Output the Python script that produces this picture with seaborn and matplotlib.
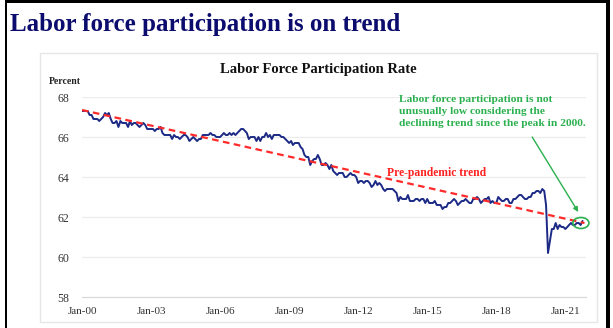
import numpy as np
import pandas as pd
import matplotlib
matplotlib.use("Agg")
import matplotlib.pyplot as plt
import matplotlib.dates as mdates
from matplotlib.patches import Rectangle, Ellipse
import seaborn as sns

# ---- data: monthly labor force participation rate (percent) ----
start_month = "2000-01-01"
lfpr = [
    67.3, 67.3, 67.3, 67.3, 67.1, 67.1, 66.9, 66.9, 66.9, 66.8, 66.9, 67.0,  # 2000
    67.2, 67.1, 67.2, 66.9, 66.7, 66.7, 66.8, 66.5, 66.8, 66.7, 66.7, 66.7,  # 2001
    66.5, 66.8, 66.6, 66.7, 66.7, 66.6, 66.5, 66.6, 66.7, 66.6, 66.4, 66.4,  # 2002
    66.4, 66.4, 66.3, 66.4, 66.4, 66.5, 66.2, 66.1, 66.1, 66.1, 66.1, 65.9,  # 2003
    66.1, 66.0, 66.0, 65.9, 66.0, 66.1, 66.1, 66.0, 65.8, 65.9, 66.0, 65.9,  # 2004
    65.8, 65.9, 65.9, 66.1, 66.1, 66.1, 66.1, 66.2, 66.1, 66.1, 66.0, 66.0,  # 2005
    66.0, 66.1, 66.2, 66.1, 66.1, 66.2, 66.1, 66.2, 66.1, 66.2, 66.3, 66.4,  # 2006
    66.4, 66.3, 66.2, 65.9, 66.0, 66.0, 66.0, 65.8, 66.0, 65.8, 66.0, 66.0,  # 2007
    66.2, 66.0, 66.1, 65.9, 66.1, 66.1, 66.1, 66.1, 66.0, 66.0, 65.9, 65.8,  # 2008
    65.7, 65.8, 65.6, 65.7, 65.7, 65.7, 65.5, 65.4, 65.1, 65.0, 65.0, 64.6,  # 2009
    64.8, 64.9, 64.9, 65.1, 64.9, 64.6, 64.6, 64.7, 64.6, 64.4, 64.6, 64.3,  # 2010
    64.2, 64.1, 64.2, 64.2, 64.2, 64.0, 64.0, 64.1, 64.2, 64.1, 64.1, 64.0,  # 2011
    63.7, 63.8, 63.8, 63.7, 63.8, 63.8, 63.7, 63.5, 63.6, 63.8, 63.6, 63.7,  # 2012
    63.6, 63.4, 63.3, 63.4, 63.4, 63.4, 63.4, 63.3, 63.2, 62.8, 63.0, 62.9,  # 2013
    62.9, 62.9, 63.1, 62.8, 62.8, 62.8, 62.9, 62.9, 62.8, 62.9, 62.9, 62.7,  # 2014
    62.9, 62.7, 62.7, 62.7, 62.8, 62.6, 62.6, 62.6, 62.4, 62.5, 62.5, 62.7,  # 2015
    62.7, 62.8, 62.9, 62.8, 62.6, 62.7, 62.8, 62.8, 62.9, 62.8, 62.7, 62.7,  # 2016
    62.9, 62.9, 63.0, 62.9, 62.7, 62.8, 62.9, 62.9, 63.0, 62.7, 62.8, 62.7,  # 2017
    62.7, 63.0, 62.9, 62.8, 62.8, 62.9, 62.9, 62.7, 62.7, 62.9, 62.9, 63.0,  # 2018
    63.1, 63.1, 63.0, 62.9, 62.9, 63.0, 63.0, 63.2, 63.2, 63.3, 63.3, 63.2,  # 2019
    63.4, 63.3, 62.6, 60.2, 60.8, 61.4, 61.4, 61.7, 61.4, 61.6, 61.5, 61.5,  # 2020
    61.4, 61.5, 61.6, 61.7, 61.6, 61.6, 61.7, 61.7, 61.6, 61.8,              # 2021
]
trend_dates = ["2000-01-01", "2021-11-01"]
trend_values = [67.35, 61.7]
y_ticks = [58, 60, 62, 64, 66, 68]
x_tick_years = [2000, 2003, 2006, 2009, 2012, 2015, 2018, 2021]
x_tick_labels = ["Jan-00", "Jan-03", "Jan-06", "Jan-09", "Jan-12", "Jan-15", "Jan-18", "Jan-21"]

dates = pd.date_range(start_month, periods=len(lfpr), freq="MS")
df = pd.DataFrame({"date": dates, "lfpr": lfpr})
trend = pd.DataFrame({"date": pd.to_datetime(trend_dates), "value": trend_values})

sns.set_theme(style="white")
plt.rcParams["font.family"] = ["Liberation Serif", "DejaVu Serif"]

W, H = 613, 328
fig = plt.figure(figsize=(W / 100, H / 100), dpi=100)
fig.patch.set_facecolor("white")

def frame_rect(x0, y0_top, w, h, **kw):
    r = Rectangle((x0 / W, 1 - (y0_top + h) / H), w / W, h / H, transform=fig.transFigure,
                  zorder=-5, **kw)
    fig.patches.append(r)

# slide frame
frame_rect(5, 0, 1.6, H, facecolor="black", edgecolor="none")
frame_rect(5, 0, 606 - 5, 3, facecolor="black", edgecolor="none")
frame_rect(606, 0, 4, H, facecolor="black", edgecolor="none")
# inner chart panel
frame_rect(40, 53, 597 - 40, 322 - 53, facecolor="white", edgecolor="#e6e6e6", linewidth=1.0)

fig.text(10 / W, 1 - 24 / H, "Labor force participation is on trend", ha="left", va="center",
         fontsize=18, fontweight="bold", color="#0c0c6e")

left, right = 82 / W, 586 / W
bottom, top = (H - 297) / H, (H - 97) / H
ax = fig.add_axes([left, bottom, right - left, top - bottom])
ax.set_facecolor("none")

ax.set_ylim(58, 68)
ax.set_xlim(pd.Timestamp("2000-01-01"), pd.Timestamp("2021-11-25"))
ax.set_yticks(y_ticks)
for yv in y_ticks[1:]:
    ax.axhline(yv, color="#ececec", linewidth=0.9, zorder=0)

sns.lineplot(data=df, x="date", y="lfpr", ax=ax, color="#1c2a86", linewidth=1.4, zorder=3)
sns.lineplot(data=trend, x="date", y="value", ax=ax, color="#ff2a2a", linewidth=1.6,
             linestyle=(0, (3, 2)), zorder=4)

for s in ["left", "right", "top"]:
    ax.spines[s].set_visible(False)
ax.spines["bottom"].set_color("#d9d9d9")
ax.spines["bottom"].set_linewidth(0.9)

ax.set_xticks([pd.Timestamp(f"{y}-01-01") for y in x_tick_years])
ax.set_xticklabels(x_tick_labels)
ax.tick_params(axis="x", length=2, color="#d0d0d0", labelsize=8, pad=5, labelcolor="#333333")
ax.tick_params(axis="y", length=0, labelsize=8.5, pad=9, labelcolor="#333333")
ax.set_xlabel("")
ax.set_ylabel("")

fig.text(318 / W, 1 - 69 / H, "Labor Force Participation Rate", ha="center", va="center",
         fontsize=10.5, fontweight="bold", color="#111111")
fig.text(49 / W, 1 - 82 / H, "Percent", ha="left", va="center",
         fontsize=7, fontweight="bold", color="#222222")

green = "#2bb04f"
ax.text(pd.Timestamp("2013-10-10"), 68.1,
        "Labor force participation is not\nunusually low considering the\ndeclining trend since the peak in 2000.",
        ha="left", va="top", fontsize=8.2, fontweight="bold", color=green, linespacing=1.45)
ax.text(pd.Timestamp("2015-06-01"), 64.2, "Pre-pandemic trend", ha="center", va="center",
        fontsize=8.4, fontweight="bold", color="#ff2020")
ax.annotate("", xy=(pd.Timestamp("2021-07-25"), 62.25), xytext=(pd.Timestamp("2019-07-25"), 66.0),
            arrowprops=dict(arrowstyle="-|>", color=green, lw=1.0, mutation_scale=7,
                            shrinkA=0, shrinkB=0))
center = mdates.date2num(pd.Timestamp("2021-09-05"))
ax.add_patch(Ellipse((center, 61.7), width=255, height=0.55, fill=False,
                     edgecolor=green, linewidth=1.2, zorder=5, clip_on=False))

fig.savefig("out.png", dpi=100, facecolor="white")
